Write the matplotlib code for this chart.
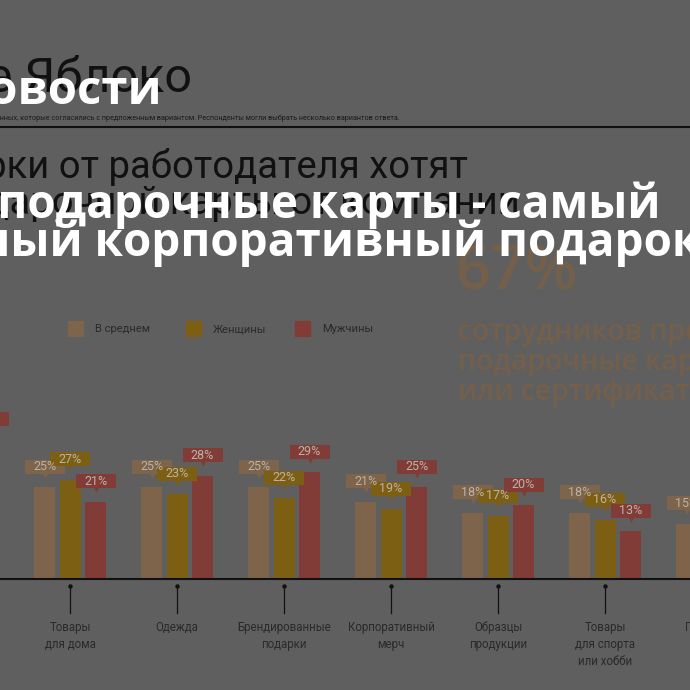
import numpy as np
import matplotlib
matplotlib.use("Agg")
import matplotlib.pyplot as plt

# data
categories = ["Подарочные\nкарты", "Товары\nдля дома", "Одежда", "Брендированные\nподарки",
              "Корпоративный\nмерч", "Образцы\nпродукции", "Товары\nдля спорта\nили хобби",
              "Продукты\nпитания"]
avg = [67, 25, 25, 25, 21, 18, 18, 15]
women = [70, 27, 23, 22, 19, 17, 16, 16]
men = [38, 21, 28, 29, 25, 20, 13, 14]
series_names = ["В среднем", "Женщины", "Мужчины"]

BG = "#5f5f5f"
colors = ["#7d644b", "#7d5f14", "#823c37"]
label_txt = "#bcb2a8"
dark = "#2a2a2a"

W = H = 690
fig = plt.figure(figsize=(6.9, 6.9), dpi=100, facecolor=BG)


def fy(y):
    return 1 - y / H


# header texts
fig.text(192 / W, fy(92), "Новое Яблоко", ha="right", va="baseline",
         fontsize=35, color="#111111", family="Roboto")
fig.text(400 / W, fy(120), "Данные в процентах от числа опрошенных, которые согласились с предложенным вариантом. "
         "Респонденты могли выбрать несколько вариантов ответа.",
         ha="right", va="baseline", fontsize=5.2, color="#1a1a1a", family="Roboto")
fig.add_artist(plt.Line2D([0, 1], [fy(127), fy(127)], color="#111111", lw=1.5))
fig.text(468 / W, fy(178), "Подарки от работодателя хотят", ha="right", va="baseline",
         fontsize=27.5, color="#111111", family="Roboto")
fig.text(520 / W, fy(214), "получать в виде подарочной карты от компании", ha="right", va="baseline",
         fontsize=27.5, color="#111111", family="Roboto")

# big tan callout
tan_txt = "#735f4a"
fig.text(455 / W, fy(290), "67%", ha="left", va="baseline", fontsize=44,
         color=tan_txt, family="Open Sans", fontweight="semibold")
for i, line in enumerate(["сотрудников предпочитают", "подарочные карты", "или сертификаты"]):
    fig.text(458 / W, fy(340 + 30 * i), line, ha="left", va="baseline", fontsize=20.3,
             color=tan_txt, family="Open Sans", fontweight="semibold")

# legend
for x0, name, c in zip([68, 186, 295], series_names, colors):
    fig.add_artist(plt.Rectangle((x0 / W, fy(336)), 15 / W, 15 / H, color=c,
                                 transform=fig.transFigure))
    fig.text((x0 + 27) / W, fy(329), name, ha="left", va="center", fontsize=8,
             color=dark, family="Roboto")

# bar chart
px_per_unit = 107.0
px_per_pct = 3.68
ax = fig.add_axes([0, 111 / H, 1, 279 / H])
ax.set_facecolor("none")
ax.set_xlim(37 / px_per_unit, (W + 37) / px_per_unit)
ax.set_ylim(0, 279 / px_per_pct)
ax.axis("off")

x = np.arange(len(categories))
bw = 21 / px_per_unit
step = 25.5 / px_per_unit
box_w = 40 / px_per_unit
for k, (vals, c) in enumerate(zip([avg, women, men], colors)):
    xs = x + (k - 1) * step
    ax.bar(xs, vals, width=bw, color=c, zorder=2)
    vals = np.array(vals, dtype=float)
    # value tags above the bars
    ax.bar(xs, 14 / px_per_pct, bottom=vals + 13.5 / px_per_pct, width=box_w,
           color=c, zorder=3, clip_on=False)
    ax.scatter(xs, vals + 12.5 / px_per_pct, marker="v", s=22, color=c, zorder=3,
               linewidths=0, clip_on=False)
    for xi, v in zip(xs, vals):
        ax.text(xi, v + 20.5 / px_per_pct, f"{int(v)}%", ha="center", va="center",
                fontsize=9, color=label_txt, zorder=4, family="Roboto")

ax.axhline(0, color="#111111", lw=1.5, zorder=5, clip_on=False)

# category ticks and labels under the axis
for xi, cat in zip(x, categories):
    ax.plot([xi, xi], [-7 / px_per_pct, -34 / px_per_pct], color="#111111", lw=0.9,
            clip_on=False)
    ax.plot([xi], [-7 / px_per_pct], marker="o", ms=2.2, color="#111111", clip_on=False)
    ax.text(xi, -42 / px_per_pct, cat, ha="center", va="top", fontsize=8.3, color=dark,
            linespacing=1.4, family="Roboto", clip_on=False)

# white overlay headline
fig.text(162 / W, fy(104), "Новости", ha="right", va="baseline", fontsize=34,
         color="white", family="Open Sans", fontweight="bold")
fig.text(660 / W, fy(218), "Электронные подарочные карты - самый", ha="right", va="baseline",
         fontsize=33, color="white", family="Open Sans", fontweight="bold")
fig.text(700 / W, fy(256), "востребованный корпоративный подарок", ha="right", va="baseline",
         fontsize=33, color="white", family="Open Sans", fontweight="bold")

fig.savefig("out.png", dpi=100, facecolor=BG)
